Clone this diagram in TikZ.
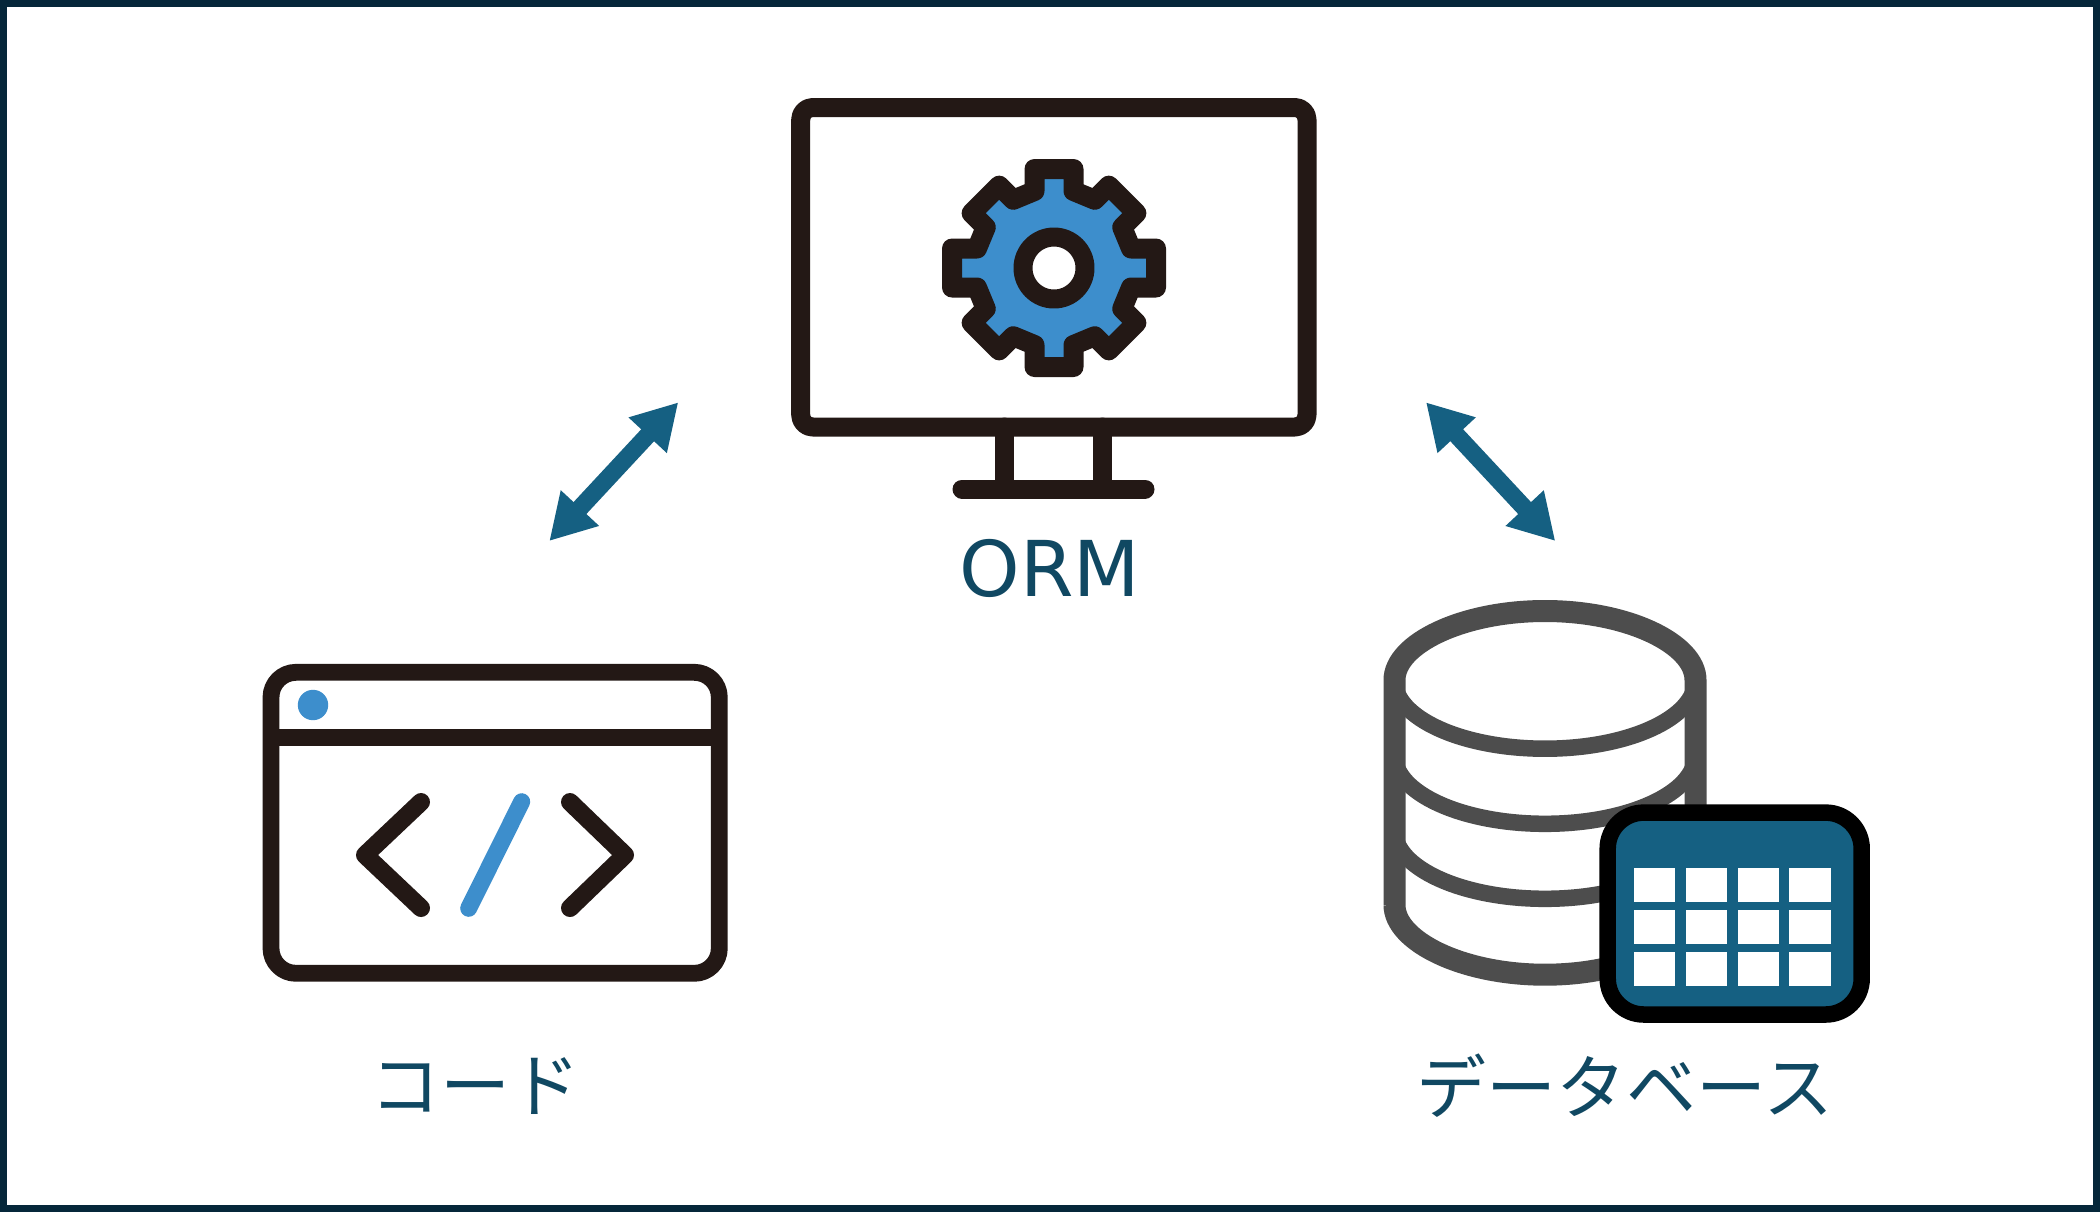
\documentclass[tikz,border=0pt]{standalone}
\usepackage{fontspec}
\setmainfont{Noto Sans CJK JP}
\newfontfamily\ormfont{DejaVu Sans}
\usetikzlibrary{arrows.meta}
\definecolor{framecol}{HTML}{05273A}
\definecolor{inkcol}{HTML}{231815}
\definecolor{gearcol}{HTML}{3D8ECC}
\definecolor{arrowcol}{HTML}{156082}
\definecolor{textcol}{HTML}{104862}
\definecolor{drumcol}{HTML}{4D4D4D}
\begin{document}
\begin{tikzpicture}[
                    x=0.5pt, y=-0.5pt, % one unit is one pixel of the reference
                    every node/.style={font=\fontsize{35}{40}\selectfont, text=textcol},
                    icon/.style={draw=inkcol, line width=9.5pt, line join=round, line cap=round},
                    drum/.style={draw=drumcol, line width=8.25pt},
                    link/.style={draw=arrowcol, line width=8.75pt, {Triangle[length=22.5pt, width=24.5pt]}-{Triangle[length=22.5pt, width=24.5pt]}}
                ]
                \useasboundingbox (0,0) rectangle (2100,1212);
                \draw[framecol, line width=3.5pt, fill=white] (3.5,3.5) rectangle (2096.5,1208.5);

                % monitor
                \draw[icon, rounded corners=6pt] (800.7,107.5) rectangle (1307,427);
                \draw[icon] (1004.3,427) -- (1004.3,489) (1102.6,427) -- (1102.6,489);
                \draw[icon] (962,489) -- (1145,489);
                \begin{scope}[shift={(1054,268)}]
                    \draw[icon, fill=gearcol, line width=10pt, line cap=butt]
                        (-19.5,-99) \foreach \a/\r in {0/99,45/97,90/102,135/97,180/99,225/97,270/102,315/97}
                            { -- ([rotate=-\a]-19.5,-\r) -- ([rotate=-\a]19.5,-\r) -- ([rotate=-\a]19.5,-77) -- ([rotate=-\a-45]-19.5,-77) } -- cycle;
                    \draw[icon, fill=white, line width=9.5pt] (0,0) circle (31);
                \end{scope}
                \node[font=\ormfont\fontsize{38.5}{40}\selectfont] (orm) at (1050,568) {ORM};

                % code window
                \draw[icon, line width=8.4pt, rounded corners=12.5pt] (271,672.3) rectangle (719.3,973.3);
                \draw[icon, line width=8.4pt, line cap=butt] (271,737.3) -- (719.3,737.3);
                \fill[gearcol] (313,705) circle (15.2);
                \draw[icon, line width=9pt] (421,802) -- (365,855) -- (421,908);
                \draw[icon, line width=9pt] (570,802) -- (625,855) -- (570,908);
                \draw[icon, draw=gearcol, line width=8.5pt] (521.7,801.7) -- (468.7,908.3);
                \node (code) at (475,1086) {コード};

                % database
                \draw[drum, line width=11pt] (1394.5,905) -- (1394.5,680)
                    .. controls (1394.5,644) and (1462,611) .. (1545,611)
                    .. controls (1628,611) and (1695.5,644) .. (1695.5,680) -- (1695.5,905)
                    .. controls (1695.5,941) and (1628,974.7) .. (1545,974.7)
                    .. controls (1462,974.7) and (1394.5,941) .. (1394.5,905);
                \foreach \ya/\yb in {680/748.7, 755/823.8, 830/898.8}
                    \draw[drum] (1394.5,\ya) .. controls (1394.5,\ya+38) and (1462,\yb) .. (1545,\yb)
                        .. controls (1628,\yb) and (1695.5,\ya+38) .. (1695.5,\ya);
                \draw[black, line width=8.25pt, fill=arrowcol, rounded corners=18pt] (1607.7,812.6) rectangle (1861.7,1014.5);
                \foreach \xa/\xb in {1634/1675, 1686/1727, 1738/1779, 1789/1831}
                    \foreach \ya/\yb in {868/902, 910/944, 952/986}
                        \fill[white] (\xa,\ya) rectangle (\xb,\yb);
                \node (db) at (1625,1086) {データベース};

                % arrows
                \coordinate (codeend) at (549.3,541);
                \coordinate (ormleft) at (678.3,402.3);
                \coordinate (ormright) at (1426,402.3);
                \coordinate (dbend) at (1555.3,541);
                \draw[link] (codeend) -- (ormleft);
                \draw[link] (ormright) -- (dbend);
            \end{tikzpicture}
\end{document}
